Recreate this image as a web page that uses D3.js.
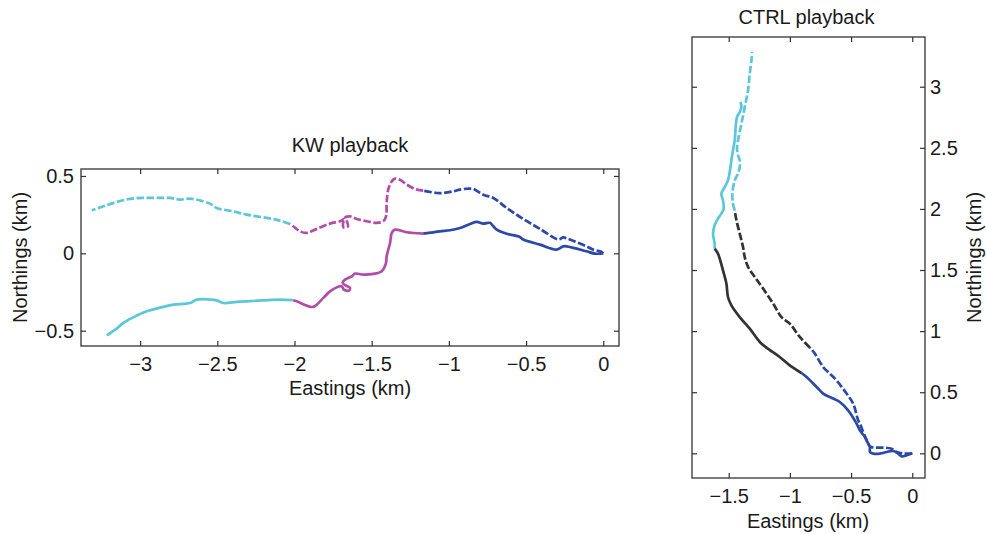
<!DOCTYPE html>
<html>
<head>
<meta charset="utf-8">
<script src="https://cdn.jsdelivr.net/npm/d3@7"></script>
<style>
  body { margin: 0; background: #fff; }
  svg { display: block; font-family: "Liberation Sans", Arial, sans-serif; }
</style>
</head>
<body>
<svg id="chart" width="986" height="534"></svg>
<script>
// ---------------- DATA (km) ----------------
// KW playback, dashed track (origin westward)
const kwDashedBlue = [[0,0],[-0.021,0.013],[-0.065,0.024],[-0.108,0.045],[-0.227,0.093],[-0.259,0.103],[-0.291,0.09],[-0.41,0.158],[-0.518,0.222],[-0.626,0.293],[-0.712,0.358],[-0.777,0.379],[-0.842,0.416],[-0.874,0.418],[-0.928,0.412],[-0.971,0.401],[-1.036,0.39],[-1.079,0.39],[-1.166,0.405]];
const kwDashedMagenta = [[-1.166,0.405],[-1.209,0.412],[-1.273,0.444],[-1.317,0.476],[-1.349,0.483],[-1.37,0.465],[-1.393,0.412],[-1.403,0.326],[-1.407,0.239],[-1.425,0.207],[-1.468,0.197],[-1.532,0.207],[-1.597,0.222],[-1.641,0.239],[-1.673,0.229],[-1.66,0.205],[-1.654,0.173],[-1.68,0.166],[-1.686,0.192],[-1.673,0.224],[-1.705,0.207],[-1.77,0.192],[-1.856,0.158],[-1.921,0.132],[-1.964,0.142],[-2.008,0.175],[-2.029,0.19]];
const kwDashedCyan = [[-2.029,0.19],[-2.094,0.211],[-2.18,0.229],[-2.31,0.25],[-2.396,0.271],[-2.504,0.293],[-2.536,0.315],[-2.591,0.336],[-2.677,0.354],[-2.742,0.347],[-2.807,0.358],[-2.893,0.358],[-2.979,0.358],[-3.066,0.352],[-3.152,0.332],[-3.238,0.304],[-3.313,0.278]];
// KW playback, solid track
const kwSolidBlue = [[0,0],[-0.054,-0.002],[-0.108,0.013],[-0.237,0.045],[-0.259,0.045],[-0.302,0.024],[-0.41,0.056],[-0.518,0.089],[-0.54,0.106],[-0.626,0.127],[-0.69,0.153],[-0.712,0.175],[-0.734,0.197],[-0.777,0.192],[-0.82,0.203],[-0.863,0.19],[-0.928,0.164],[-0.993,0.149],[-1.058,0.142],[-1.166,0.127]];
const kwSolidMagenta = [[-1.166,0.127],[-1.273,0.136],[-1.349,0.153],[-1.37,0.132],[-1.381,0.067],[-1.403,-0.019],[-1.407,-0.062],[-1.435,-0.116],[-1.49,-0.133],[-1.554,-0.138],[-1.608,-0.131],[-1.63,-0.149],[-1.673,-0.17],[-1.688,-0.191],[-1.666,-0.209],[-1.641,-0.222],[-1.647,-0.241],[-1.68,-0.235],[-1.692,-0.215],[-1.705,-0.213],[-1.77,-0.246],[-1.813,-0.288],[-1.878,-0.346],[-1.921,-0.338],[-1.986,-0.31],[-2.008,-0.303]];
const kwSolidCyan = [[-2.008,-0.303],[-2.094,-0.299],[-2.202,-0.304],[-2.31,-0.31],[-2.374,-0.314],[-2.461,-0.321],[-2.504,-0.304],[-2.547,-0.299],[-2.633,-0.299],[-2.677,-0.321],[-2.785,-0.332],[-2.85,-0.346],[-2.957,-0.375],[-3.044,-0.414],[-3.109,-0.45],[-3.152,-0.487],[-3.216,-0.53]];

// CTRL playback, solid track
const ctrlSolidBlue = [[0,0],[-0.046,-0.016],[-0.087,-0.025],[-0.115,-0.002],[-0.155,0.019],[-0.209,0.011],[-0.264,-0.002],[-0.319,-0.002],[-0.346,0.011],[-0.346,0.052],[-0.36,0.079],[-0.387,0.133],[-0.428,0.188],[-0.455,0.243],[-0.524,0.352],[-0.592,0.42],[-0.646,0.448],[-0.728,0.489],[-0.782,0.543],[-0.864,0.624],[-0.905,0.657]];
const ctrlSolidBlack = [[-0.905,0.657],[-1.001,0.72],[-1.083,0.788],[-1.192,0.865],[-1.246,0.911],[-1.328,1.02],[-1.41,1.115],[-1.478,1.211],[-1.506,1.279],[-1.519,1.389],[-1.547,1.498],[-1.588,1.634],[-1.615,1.675]];
const ctrlSolidCyan = [[-1.615,1.675],[-1.615,1.716],[-1.628,1.798],[-1.615,1.866],[-1.588,1.921],[-1.56,1.962],[-1.541,2.002],[-1.547,2.07],[-1.56,2.125],[-1.533,2.179],[-1.506,2.234],[-1.492,2.302],[-1.478,2.398],[-1.465,2.48],[-1.451,2.561],[-1.443,2.67],[-1.432,2.752],[-1.41,2.793],[-1.396,2.834],[-1.404,2.875]];
// CTRL playback, dashed track
const ctrlDashedBlue = [[0,0],[-0.074,-0.002],[-0.128,0.011],[-0.169,0.038],[-0.237,0.047],[-0.319,0.047],[-0.346,0.057],[-0.373,0.106],[-0.401,0.174],[-0.428,0.243],[-0.442,0.27],[-0.483,0.407],[-0.537,0.489],[-0.619,0.597],[-0.673,0.652],[-0.728,0.706],[-0.796,0.816],[-0.837,0.865]];
const ctrlDashedBlack = [[-0.837,0.865],[-0.919,0.952],[-1.001,1.061],[-1.069,1.115],[-1.137,1.225],[-1.219,1.348],[-1.287,1.443],[-1.342,1.525],[-1.369,1.606],[-1.383,1.688],[-1.41,1.798],[-1.437,1.907],[-1.451,1.989]];
const ctrlDashedCyan = [[-1.451,1.989],[-1.465,2.043],[-1.47,2.125],[-1.451,2.234],[-1.424,2.289],[-1.41,2.343],[-1.41,2.398],[-1.424,2.439],[-1.432,2.493],[-1.424,2.561],[-1.396,2.698],[-1.369,2.834],[-1.342,2.971],[-1.328,3.107],[-1.314,3.216],[-1.309,3.284]];

// Ticks
const kwXTicks = [-3, -2.5, -2, -1.5, -1, -0.5, 0];
const kwXTickLabels = ["\u22123", "\u22122.5", "\u22122", "\u22121.5", "\u22121", "\u22120.5", "0"];
const kwYTicks = [-0.5, 0, 0.5];
const kwYTickLabels = ["\u22120.5", "0", "0.5"];
const ctrlXTicks = [-1.5, -1, -0.5, 0];
const ctrlXTickLabels = ["\u22121.5", "\u22121", "\u22120.5", "0"];
const ctrlYTicks = [0, 0.5, 1, 1.5, 2, 2.5, 3];
const ctrlYTickLabels = ["0", "0.5", "1", "1.5", "2", "2.5", "3"];

// Colours
const cCyan = "#5cc6db", cMagenta = "#b24ca8", cBlue = "#2c49a9", cBlack = "#333333";

// ---------------- DRAW ----------------
const svg = d3.select("#chart");
const FONT = 20;
const DASH = "7.5,2.5";

function panel(cfg) {
  const x = d3.scaleLinear().domain(cfg.xDomain).range([cfg.left, cfg.right]);
  const y = d3.scaleLinear().domain(cfg.yDomain).range([cfg.bottom, cfg.top]);
  const g = svg.append("g");

  const line = d3.line().x(d => x(d[0])).y(d => y(d[1])).curve(d3.curveCatmullRom.alpha(0.5));
  cfg.series.forEach(s => {
    g.append("path").attr("d", line(s.data))
      .attr("fill", "none").attr("stroke", s.color)
      .attr("stroke-width", 2.7)
      .attr("stroke-linejoin", "round").attr("stroke-linecap", "butt")
      .attr("stroke-dasharray", s.dashed ? DASH : null);
  });

  const fmt = (labels, ticks) => d => labels[ticks.indexOf(d)];
  const styleAxis = sel => {
    sel.select(".domain").remove();
    sel.selectAll("line").attr("stroke", "#333").attr("stroke-width", 1.2);
    sel.selectAll("text").attr("fill", "#1a1a1a").attr("font-size", FONT)
       .attr("font-family", "Liberation Sans, Arial, sans-serif");
  };

  g.append("g").attr("transform", `translate(0,${cfg.bottom})`)
    .call(d3.axisBottom(x).tickValues(cfg.xTicks).tickFormat(fmt(cfg.xLabels, cfg.xTicks))
      .tickSizeInner(-5).tickSizeOuter(0).tickPadding(11)).call(styleAxis);
  g.append("g").attr("transform", `translate(0,${cfg.top})`)
    .call(d3.axisTop(x).tickValues(cfg.xTicks).tickFormat("")
      .tickSizeInner(-5).tickSizeOuter(0)).call(styleAxis);
  if (cfg.yLabelsRight) {
    g.append("g").attr("transform", `translate(${cfg.right},0)`)
      .call(d3.axisRight(y).tickValues(cfg.yTicks).tickFormat(fmt(cfg.yLabels, cfg.yTicks))
        .tickSizeInner(-5).tickSizeOuter(0).tickPadding(5)).call(styleAxis);
    g.append("g").attr("transform", `translate(${cfg.left},0)`)
      .call(d3.axisLeft(y).tickValues(cfg.yTicks).tickFormat("")
        .tickSizeInner(-5).tickSizeOuter(0)).call(styleAxis);
  } else {
    g.append("g").attr("transform", `translate(${cfg.left},0)`)
      .call(d3.axisLeft(y).tickValues(cfg.yTicks).tickFormat(fmt(cfg.yLabels, cfg.yTicks))
        .tickSizeInner(-5).tickSizeOuter(0).tickPadding(7)).call(styleAxis);
    g.append("g").attr("transform", `translate(${cfg.right},0)`)
      .call(d3.axisRight(y).tickValues(cfg.yTicks).tickFormat("")
        .tickSizeInner(-5).tickSizeOuter(0)).call(styleAxis);
  }

  g.append("rect").attr("x", cfg.left).attr("y", cfg.top)
    .attr("width", cfg.right - cfg.left).attr("height", cfg.bottom - cfg.top)
    .attr("fill", "none").attr("stroke", "#333").attr("stroke-width", 1.3);

  const txt = (t, xx, yy, rot) => g.append("text").text(t)
    .attr("text-anchor", "middle").attr("font-size", FONT).attr("fill", "#1a1a1a")
    .attr("transform", `translate(${xx},${yy})` + (rot ? " rotate(-90)" : ""));
  const cx = (cfg.left + cfg.right) / 2, cy = (cfg.top + cfg.bottom) / 2;
  txt(cfg.title, cx + cfg.titleDx, cfg.titleY);
  txt("Eastings (km)", cx + cfg.xLabelDx, cfg.xLabelY);
  txt("Northings (km)", cfg.yLabelX, cy, true);
}

panel({
  left: 81, right: 619, top: 169, bottom: 346,
  xDomain: [-3.383, 0.102], yDomain: [-0.599, 0.545],
  xTicks: kwXTicks, xLabels: kwXTickLabels, yTicks: kwYTicks, yLabels: kwYTickLabels,
  title: "KW playback", titleDx: 0, titleY: 152,
  xLabelDx: 0, xLabelY: 395, yLabelX: 27, yLabelsRight: false,
  series: [
    {data: kwDashedCyan, color: cCyan, dashed: true},
    {data: kwDashedMagenta, color: cMagenta, dashed: true},
    {data: kwDashedBlue, color: cBlue, dashed: true},
    {data: kwSolidCyan, color: cCyan, dashed: false},
    {data: kwSolidMagenta, color: cMagenta, dashed: false},
    {data: kwSolidBlue, color: cBlue, dashed: false}
  ]
});

panel({
  left: 692, right: 925, top: 37, bottom: 478,
  xDomain: [-1.80, 0.104], yDomain: [-0.202, 3.407],
  xTicks: ctrlXTicks, xLabels: ctrlXTickLabels, yTicks: ctrlYTicks, yLabels: ctrlYTickLabels,
  title: "CTRL playback", titleDx: -2, titleY: 24,
  xLabelDx: -0.5, xLabelY: 528, yLabelX: 981, yLabelsRight: true,
  series: [
    {data: ctrlDashedCyan, color: cCyan, dashed: true},
    {data: ctrlDashedBlack, color: cBlack, dashed: true},
    {data: ctrlDashedBlue, color: cBlue, dashed: true},
    {data: ctrlSolidCyan, color: cCyan, dashed: false},
    {data: ctrlSolidBlack, color: cBlack, dashed: false},
    {data: ctrlSolidBlue, color: cBlue, dashed: false}
  ]
});
</script>
</body>
</html>
